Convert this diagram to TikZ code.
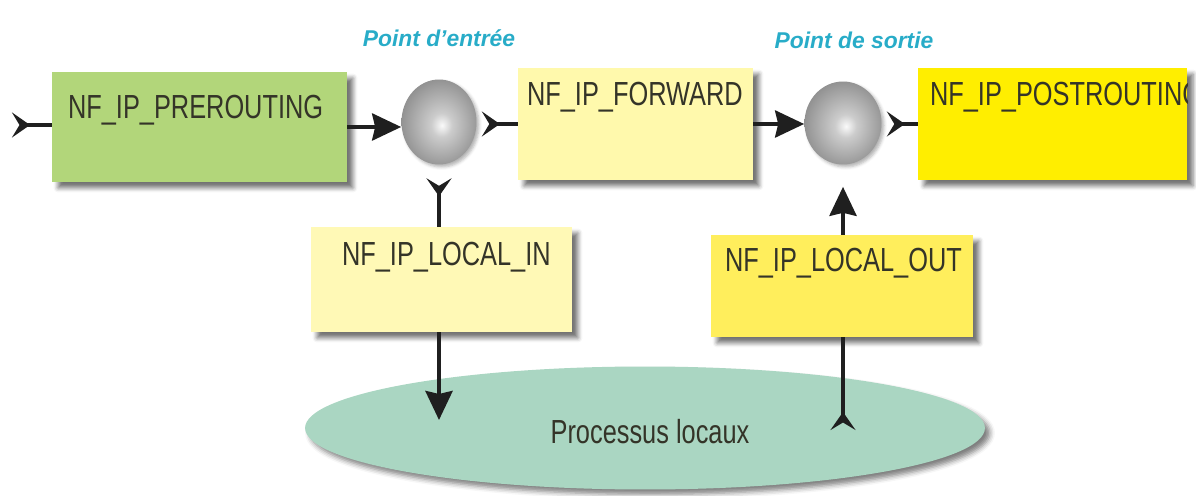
\documentclass[tikz,border=0pt]{standalone}
\usepackage{fontspec}
\setmainfont{Liberation Sans}
\newfontfamily\hookfont[FakeStretch=0.76]{Liberation Sans}
\usepackage{tikz}
\usetikzlibrary{arrows.meta, positioning, shapes.geometric, shadows.blur, calc}
\definecolor{preGreen}{RGB}{178,214,122}
\definecolor{fwdYellow}{RGB}{255,249,172}
\definecolor{inYellow}{RGB}{255,249,182}
\definecolor{outYellow}{RGB}{255,238,92}
\definecolor{postYellow}{RGB}{255,238,0}
\definecolor{procGreen}{RGB}{170,214,194}
\definecolor{hookText}{RGB}{52,52,40}
\definecolor{pointCyan}{RGB}{40,172,200}
\pgfdeclareradialshading{orb}{\pgfpoint{2bp}{-2bp}}{%
  color(0bp)=(gray!4); color(7bp)=(gray!40); color(26bp)=(gray!85);
  color(44bp)=(black!66); color(50bp)=(black!66)}
\tikzset{
    hookbox/.style={rectangle, fill=#1, inner sep=0pt,
      blur shadow={shadow xshift=0.12cm, shadow yshift=-0.12cm,
        shadow blur radius=0.09cm, shadow opacity=55}},
    hooklbl/.style={anchor=north west, inner sep=0pt, text=hookText,
      font=\hookfont\fontsize{19}{22}\selectfont},
    junction/.style={ellipse, inner sep=0pt, shading=orb,
      blur shadow={shadow xshift=0.05cm, shadow yshift=-0.05cm,
        shadow blur radius=0.06cm, shadow opacity=30}},
    pointlbl/.style={inner sep=0pt, text=pointCyan,
      font=\bfseries\itshape\fontsize{13}{15}\selectfont},
    flowline/.style={line width=2.3pt, draw=black!88},
    into/.style={flowline, -{Stealth[length=0.58cm, width=0.54cm, inset=0.06cm]}},
    outof/.style={flowline, {Stealth[reversed, length=0.36cm, width=0.5cm, inset=0.15cm]}-},
}

\begin{document}
\begin{tikzpicture}[x=0.02cm, y=-0.02cm]
    \useasboundingbox (0,0) rectangle (1196,496);

    \node[hookbox=preGreen, minimum width=5.9cm, minimum height=2.2cm] (pre) at (199.5,127) {};
    \node[hookbox=fwdYellow, minimum width=4.7cm, minimum height=2.24cm] (fwd) at (635.5,124) {};
    \node[hookbox=postYellow, minimum width=5.38cm, minimum height=2.24cm] (post) at (1052.5,124) {};
    \node[hookbox=inYellow, minimum width=5.22cm, minimum height=2.1cm] (lin) at (441.5,279.5) {};
    \node[hookbox=outYellow, minimum width=5.24cm, minimum height=2.04cm] (lout) at (842,286) {};

    \node[hooklbl] (prelbl) at ([shift={(0.32cm,-0.46cm)}]pre.north west) {NF\_IP\_PREROUTING};
    \node[hooklbl] (fwdlbl) at ([shift={(0.18cm,-0.28cm)}]fwd.north west) {NF\_IP\_FORWARD};
    \node[hooklbl] (linlbl) at ([shift={(0.62cm,-0.30cm)}]lin.north west) {NF\_IP\_LOCAL\_IN};
    \node[hooklbl] (loutlbl) at ([shift={(0.28cm,-0.26cm)}]lout.north west) {NF\_IP\_LOCAL\_OUT};
    \begin{scope}
      \clip (post.south west) rectangle (post.north east);
      \node[hooklbl] (postlbl) at ([shift={(0.24cm,-0.28cm)}]post.north west) {NF\_IP\_POSTROUTING};
    \end{scope}

    \node[junction, minimum width=1.5cm, minimum height=1.7cm] (entry) at (439,122) {};
    \node[junction, minimum width=1.54cm, minimum height=1.66cm] (exit) at (843,123) {};
    \node[pointlbl, above=0.64cm of entry] (entrylbl) {Point d'entrée};
    \node[pointlbl, above=0.64cm of exit, xshift=0.22cm] (exitlbl) {Point de sortie};

    \node[ellipse, fill=procGreen, minimum width=13.6cm, minimum height=2.46cm,
      blur shadow={shadow xshift=0.1cm, shadow yshift=-0.1cm, shadow blur radius=0.1cm, shadow opacity=50}] (procs) at (645,428) {};
    \node[hooklbl, anchor=center] (procslbl) at (650,432) {Processus locaux};

    \coordinate (src) at (12,125);
    \draw[outof] (src) -- (src -| pre.west);
    \draw[into] (pre.east) -- (pre.east -| entry.west);
    \draw[outof] ([xshift=0.1cm]fwd.west -| entry.east) -- (fwd.west);
    \draw[into] (fwd.east) -- (fwd.east -| exit.west);
    \draw[outof] ([xshift=0.1cm]post.west -| exit.east) -- (post.west);

    \draw[outof] ([yshift=-0.27cm]entry.south) -- (entry.south |- lin.north);
    \draw[into] (entry.south |- lin.south) -- ([yshift=0.16cm]entry.south |- procs.center);
    \draw[outof] ([yshift=-0.04cm]exit.south |- procs.center) -- (exit.south |- lout.south);
    \draw[into] (exit.south |- lout.north) -- ([yshift=-0.44cm]exit.south);
\end{tikzpicture}
\end{document}
